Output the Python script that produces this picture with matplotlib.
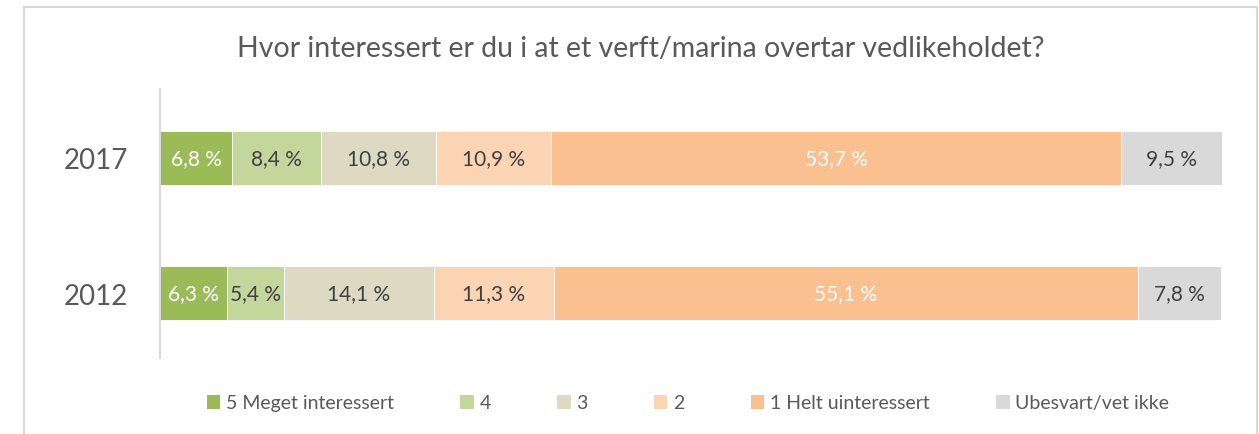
import matplotlib
matplotlib.use("Agg")
import matplotlib.pyplot as plt
from matplotlib.patches import Rectangle, Patch

plt.rcParams['font.family'] = ['Lato', 'DejaVu Sans']

# data
years = ["2012", "2017"]
categories = ["5 Meget interessert", "4", "3", "2", "1 Helt uinteressert", "Ubesvart/vet ikke"]
values_2012 = [6.3, 5.4, 14.1, 11.3, 55.1, 7.8]
values_2017 = [6.8, 8.4, 10.8, 10.9, 53.7, 9.5]

colors = ["#9BBB59", "#C3D69B", "#DDD9C3", "#FBD4B4", "#FAC090", "#D9D9D9"]
label_colors = ["white", "#404040", "#404040", "#404040", "white", "#404040"]

W, H = 1259, 435
fig = plt.figure(figsize=(W / 100, H / 100), dpi=100)

# chart-area border (open at the bottom, as in the screenshot)
fig.add_artist(Rectangle((24 / W, -0.05), (1257 - 24) / W, (H - 8) / H + 0.05,
                         transform=fig.transFigure, fill=False,
                         edgecolor="#D9D9D9", linewidth=1.5))

# axes placed in pixel terms: x 160..1222, y 90..359
ax = fig.add_axes([160 / W, 1 - 359 / H, (1222 - 160) / W, (359 - 90) / H])

rows = [values_2012, values_2017]
for yi, vals in enumerate(rows):
    left = 0.0
    for ci, v in enumerate(vals):
        ax.barh(yi, v, left=left, height=0.4, color=colors[ci],
                edgecolor="white", linewidth=0.6)
        ax.text(left + v / 2, yi, f"{v:.1f} %".replace(".", ","),
                ha="center", va="center", fontsize=15, color=label_colors[ci])
        left += v

ax.set_xlim(0, max(sum(values_2012), sum(values_2017)))
ax.set_ylim(-0.48, 1.51)
ax.set_yticks(range(len(years)))
ax.set_yticklabels(years, fontsize=20, color="#595959")
ax.tick_params(axis="y", length=0, pad=23)
ax.set_xticks([])
for s in ["top", "right", "bottom"]:
    ax.spines[s].set_visible(False)
ax.spines["left"].set_color("#D9D9D9")
ax.spines["left"].set_linewidth(1.5)

fig.text(641 / W, 1 - 49 / H, "Hvor interessert er du i at et verft/marina overtar vedlikeholdet?",
         ha="center", va="center", fontsize=20.5, color="#595959")

handles = [Patch(facecolor=c, edgecolor="none") for c in colors]
fig.legend(handles, categories, loc="center", bbox_to_anchor=(688 / W, 1 - 404 / H),
           ncol=6, frameon=False, fontsize=14, labelcolor="#595959",
           handlelength=0.7, handleheight=0.7, handletextpad=0.3,
           columnspacing=3.4)

fig.savefig("out.png", dpi=100)
